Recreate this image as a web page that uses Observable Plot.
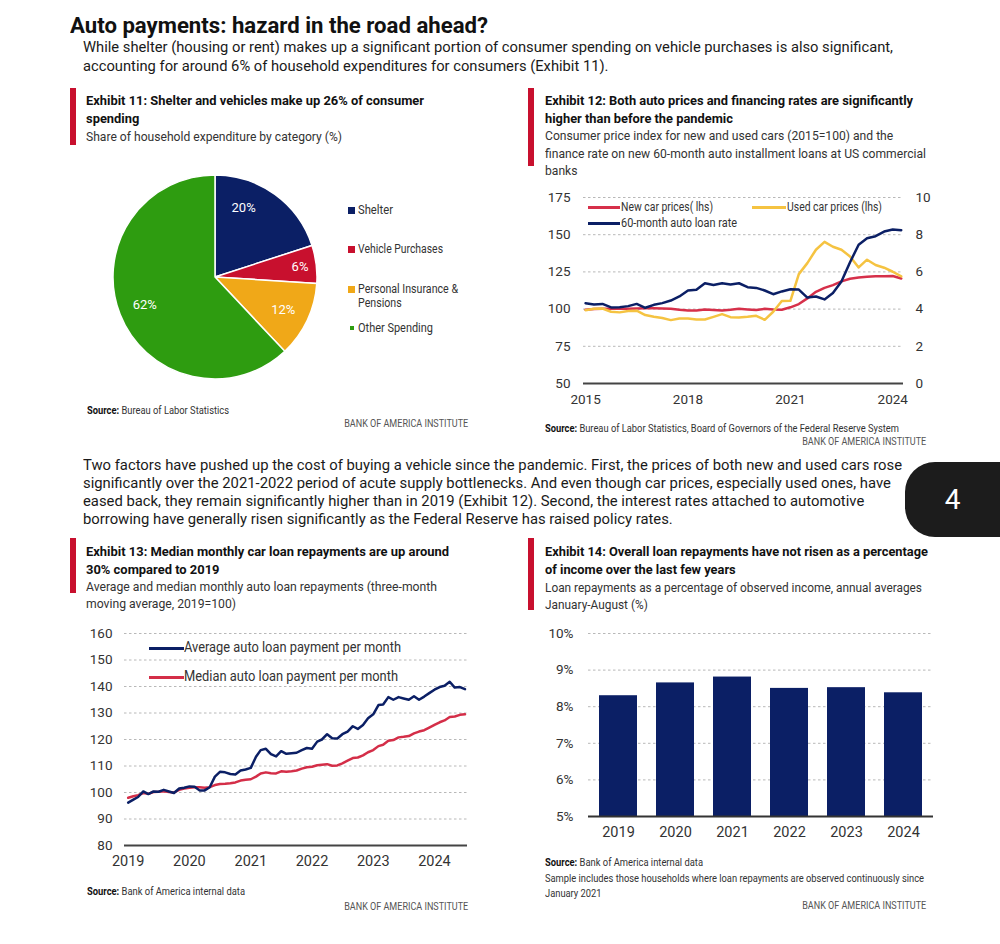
<!DOCTYPE html>
<html><head><meta charset="utf-8">
<script src="https://cdn.jsdelivr.net/npm/d3@7"></script>
<script src="https://cdn.jsdelivr.net/npm/@observablehq/plot@0.6"></script>
<style>
body{margin:0;background:#fff;}
#page{position:relative;width:1000px;height:944px;overflow:hidden;font-family:Roboto,"Liberation Sans",sans-serif;color:#1a1a1a;}
.a{position:absolute;white-space:nowrap;}
.bar{position:absolute;background:#c8102e;width:6px;}
.t{font-weight:bold;font-size:13.5px;line-height:18px;color:#111;}
.s{font-size:13px;line-height:17px;color:#333;}
.src{font-size:10.5px;line-height:15px;color:#333;}
.src b{color:#111;}
.boa{font-size:10.5px;line-height:14px;color:#555;}
.p{font-size:15.5px;line-height:19px;color:#1a1a1a;}
.sw{position:absolute;height:3px;}
.lg{font-size:12.5px;line-height:14px;color:#333;}
.sq{position:absolute;}
.chart{position:absolute;}
</style></head>
<body><div id="page">
<div class="a" data-w="418" style="left:70px;top:13px;font-size:22px;line-height:26px;font-weight:bold;color:#111;">Auto payments: hazard in the road ahead?</div>
<div class="a p" data-w="810" style="left:83px;top:37.5px;">While shelter (housing or rent) makes up a significant portion of consumer spending on vehicle purchases is also significant,<br>accounting for around 6% of household expenditures for consumers (Exhibit 11).</div>

<div class="bar" style="left:70px;top:88px;height:57px;"></div>
<div class="a t" data-w="338" style="left:86px;top:91px;">Exhibit 11: Shelter and vehicles make up 26% of consumer<br>spending</div>
<div class="a s" data-w="256" style="left:86px;top:127.5px;">Share of household expenditure by category (%)</div>

<div class="bar" style="left:528px;top:88px;height:78px;"></div>
<div class="a t" data-w="368" style="left:545px;top:91px;">Exhibit 12: Both auto prices and financing rates are significantly<br>higher than before the pandemic</div>
<div class="a s" data-w="381" style="left:545px;top:127px;line-height:17.5px;">Consumer price index for new and used cars (2015=100) and the<br>finance rate on new 60-month auto installment loans at US commercial<br>banks</div>

<div class="a src" data-w="142" style="left:87px;top:402.5px;"><b>Source:</b> Bureau of Labor Statistics</div>
<div class="a boa" data-w="124" data-r="1" style="right:532px;top:417px;">BANK OF AMERICA INSTITUTE</div>
<div class="a src" data-w="354" style="left:545px;top:420.5px;"><b>Source:</b> Bureau of Labor Statistics, Board of Governors of the Federal Reserve System</div>
<div class="a boa" data-w="124" data-r="1" style="right:74px;top:435px;">BANK OF AMERICA INSTITUTE</div>

<div class="a p" data-w="819" style="left:83px;top:456px;line-height:18px;">Two factors have pushed up the cost of buying a vehicle since the pandemic. First, the prices of both new and used cars rose<br>significantly over the 2021-2022 period of acute supply bottlenecks. And even though car prices, especially used ones, have<br>eased back, they remain significantly higher than in 2019 (Exhibit 12). Second, the interest rates attached to automotive<br>borrowing have generally risen significantly as the Federal Reserve has raised policy rates.</div>
<div class="a" style="left:905px;top:462px;width:95px;height:75px;background:#1c1c1c;border-radius:30px 0 0 30px;color:#fff;font-size:28px;line-height:75px;text-align:center;">4</div>

<div class="bar" style="left:70px;top:538px;height:55px;"></div>
<div class="a t" data-w="363" style="left:86px;top:542px;">Exhibit 13: Median monthly car loan repayments are up around<br>30% compared to 2019</div>
<div class="a s" data-w="351" style="left:86px;top:579px;line-height:16.5px;">Average and median monthly auto loan repayments (three-month<br>moving average, 2019=100)</div>

<div class="bar" style="left:528px;top:538px;height:72px;"></div>
<div class="a t" data-w="383" style="left:545px;top:542px;">Exhibit 14: Overall loan repayments have not risen as a percentage<br>of income over the last few years</div>
<div class="a s" data-w="377" style="left:545px;top:579px;line-height:17px;">Loan repayments as a percentage of observed income, annual averages<br>January-August (%)</div>

<div class="a src" data-w="158" style="left:87px;top:883.5px;"><b>Source:</b> Bank of America internal data</div>
<div class="a boa" data-w="124" data-r="1" style="right:532px;top:900px;">BANK OF AMERICA INSTITUTE</div>
<div class="a src" data-w="158" style="left:545px;top:854.5px;"><b>Source:</b> Bank of America internal data</div>
<div class="a src" data-w="379" style="left:545px;top:870.5px;">Sample includes those households where loan repayments are observed continuously since<br>January 2021</div>
<div class="a boa" data-w="124" data-r="1" style="right:74px;top:899px;">BANK OF AMERICA INSTITUTE</div>

<!-- legends -->
<div class="sq" style="left:348px;top:206.5px;width:7px;height:7px;background:#0b1f65;"></div>
<div class="a lg" data-w="35" style="left:358px;top:203px;">Shelter</div>
<div class="sq" style="left:348px;top:245.5px;width:7px;height:7px;background:#c8102e;"></div>
<div class="a lg" data-w="85" style="left:358px;top:242px;">Vehicle Purchases</div>
<div class="sq" style="left:348px;top:285.5px;width:7px;height:7px;background:#f0a818;"></div>
<div class="a lg" data-w="100" style="left:358px;top:282px;">Personal Insurance &amp;<br>Pensions</div>
<div class="sq" style="left:350px;top:326px;width:4px;height:4px;background:#2e9c10;"></div>
<div class="a lg" data-w="75" style="left:358px;top:321px;">Other Spending</div>

<div class="sw" style="left:588px;top:205.5px;width:32px;background:#d6304a;"></div>
<div class="a lg" data-w="92" style="left:621px;top:200px;">New car prices( lhs)</div>
<div class="sw" style="left:752px;top:205.5px;width:34px;background:#f5c341;"></div>
<div class="a lg" data-w="95" style="left:787px;top:200px;">Used car prices (lhs)</div>
<div class="sw" style="left:588px;top:221.5px;width:32px;background:#0b1f65;"></div>
<div class="a lg" data-w="116" style="left:621px;top:216px;">60-month auto loan rate</div>

<div class="sw" style="left:149px;top:646.5px;width:35px;background:#0b1f65;"></div>
<div class="a lg" data-w="217" style="left:184px;top:640px;font-size:14.5px;line-height:16px;">Average auto loan payment per month</div>
<div class="sw" style="left:149px;top:675.5px;width:35px;background:#d42e48;"></div>
<div class="a lg" data-w="214" style="left:184px;top:669px;font-size:14.5px;line-height:16px;">Median auto loan payment per month</div>

<div id="c11" class="chart" style="left:100px;top:165px;"></div>
<div id="c12a" class="chart" style="left:530px;top:185px;"></div>
<div id="c12b" class="chart" style="left:530px;top:185px;"></div>
<div id="c13" class="chart" style="left:62px;top:620px;"></div>
<div id="c14" class="chart" style="left:530px;top:620px;"></div>
</div>
<script>
// ---------- DATA ----------
// Exhibit 11
const pieCategories = ["Shelter", "Vehicle Purchases", "Personal Insurance & Pensions", "Other Spending"];
const pieValues = [20, 6, 12, 62];
const pieLabels = ["20%", "6%", "12%", "62%"];

// Exhibit 12 (quarterly)
const ex12Quarters = ["2015-01","2015-04","2015-07","2015-10","2016-01","2016-04","2016-07","2016-10",
  "2017-01","2017-04","2017-07","2017-10","2018-01","2018-04","2018-07","2018-10",
  "2019-01","2019-04","2019-07","2019-10","2020-01","2020-04","2020-07","2020-10",
  "2021-01","2021-04","2021-07","2021-10","2022-01","2022-04","2022-07","2022-10",
  "2023-01","2023-04","2023-07","2023-10","2024-01","2024-04"];
const newCarPrices = [99.5,100.0,100.2,100.3, 100.3,100.2,100.4,100.5, 100.5,100.4,100.2,99.5,
  99.0,99.0,99.8,99.4, 99.0,99.5,100.3,99.8, 99.4,100.2,99.8,99.6,
  101.2,103.4,107.2,111.6, 114.3,116.1,118.6,120.4, 121.3,121.8,122.0,122.0, 122.2,120.6];
const usedCarPrices = [99.3,100.2,100.4,98.2, 97.8,98.7,98.9,96.0, 94.8,94.0,92.6,93.7,
  93.7,93.0,93.0,94.8, 96.6,94.6,94.4,94.8, 95.5,92.8,98.2,105.4,
  105.6,123.5,130.9,139.9, 145.2,141.9,139.9,135.4, 128.0,133.2,129.6,127.8, 125.1,122.0];
const autoLoanRate = [4.32,4.25,4.28,4.09, 4.10,4.16,4.28,4.07, 4.23,4.32,4.46,4.68,
  5.00,5.04,5.39,5.30, 5.39,5.32,5.39,5.18, 5.14,5.00,4.80,4.95,
  5.07,5.05,4.62,4.68, 4.52,4.86,5.48,6.52, 7.46,7.81,7.92,8.17, 8.28,8.24];
const ex12YearTicks = [2015, 2018, 2021, 2024];
const ex12LeftTicks = [50, 75, 100, 125, 150, 175];
const ex12RightTicks = [0, 2, 4, 6, 8, 10];

// Exhibit 13 (monthly, Jan 2019 - Jul 2024)
const ex13Start = "2019-01";
const avgPayment = [96.2,97.3,98.3,100.4,99.4,100.4,100.3,101.0,100.4,99.8,101.5,101.8,
  102.3,102.2,100.8,100.8,102.0,106.0,107.8,107.6,107.0,106.8,108.3,108.7,
  109.3,113.5,116.0,116.5,114.5,113.6,115.6,114.6,114.8,115.0,116.0,116.8,
  116.5,119.2,120.0,122.0,120.5,120.4,122.0,123.0,125.0,124.0,125.5,128.0,
  129.5,133.0,133.2,136.0,135.0,136.0,135.5,135.0,136.3,135.0,136.2,137.5,
  138.8,139.8,140.3,141.8,139.6,139.8,139.0];
const medianPayment = [98.0,98.6,99.0,99.8,99.5,100.2,100.3,100.5,100.2,100.0,101.0,101.5,
  101.8,102.0,102.0,101.8,102.0,102.8,103.2,103.3,103.5,103.8,104.5,104.8,
  105.0,106.0,107.2,107.6,107.3,107.2,108.0,107.8,108.0,108.3,109.0,109.5,
  109.7,110.3,110.5,110.7,110.1,110.2,111.0,112.0,113.0,113.2,114.0,115.2,
  116.0,117.5,118.0,119.5,119.8,120.8,121.0,121.3,122.3,123.0,123.5,124.5,
  125.5,126.5,127.2,128.5,128.7,129.3,129.5];
const ex13YearTicks = [2019, 2020, 2021, 2022, 2023, 2024];
const ex13Ticks = [80, 90, 100, 110, 120, 130, 140, 150, 160];

// Exhibit 14
const ex14Years = ["2019", "2020", "2021", "2022", "2023", "2024"];
const ex14Share = [8.30, 8.65, 8.81, 8.50, 8.52, 8.38];
const ex14Ticks = [5, 6, 7, 8, 9, 10];

// ---------- STYLE ----------
const FONT = 'Roboto,"Liberation Sans",sans-serif';
const NAVY = "#0b1f65", RED = "#c8102e", ORANGE = "#f0a818", GREEN = "#2e9c10";
const LRED = "#d6304a", YELLOW = "#f5c341", MRED = "#d42e48";
const GRID = {stroke: "#b8b8b8", strokeOpacity: 1, strokeDasharray: "2.5,2.5", strokeWidth: 1};
const yr = y => new Date(Date.UTC(y, 0, 1));
const ym = s => new Date(s + "-01T00:00:00Z");

// ---------- EXHIBIT 11 (pie) ----------
const pieRows = pieCategories.map((c, i) => ({cat: c, v: pieValues[i], label: pieLabels[i]}));
document.getElementById("c11").append(Plot.plot({
  width: 230, height: 225, margin: 0,
  style: {fontFamily: FONT, background: "transparent"},
  x: {axis: null}, y: {axis: null},
  color: {domain: pieCategories, range: [NAVY, RED, ORANGE, GREEN]},
  marks: [
    Plot.dot(pieRows, {x: 0, y: 0, fill: "cat", r: 1, render(index, scales, values, dims) {
      const R = 102, cx = 115, cy = 112;
      const arcs = d3.pie().sort(null).value(i => pieRows[i].v)(index);
      const g = d3.create("svg:g").attr("transform", `translate(${cx},${cy})`);
      g.selectAll("path").data(arcs).join("path")
        .attr("d", d3.arc().innerRadius(0).outerRadius(R))
        .attr("fill", d => values.fill[d.data])
        .attr("stroke", "#fff").attr("stroke-width", 1.5);
      g.selectAll("text").data(arcs).join("text")
        .attr("transform", d => {
          const a = (d.startAngle + d.endAngle) / 2;
          const share = pieRows[d.data].v;
          const rr = share < 10 ? 0.84 * R : 0.74 * R;
          const aa = share === 20 ? a - 0.24 : a;
          return `translate(${Math.sin(aa) * rr},${-Math.cos(aa) * rr})`;
        })
        .attr("text-anchor", "middle").attr("dy", "0.35em")
        .attr("fill", "#fff").attr("font-size", 13).attr("font-family", FONT)
        .text(d => pieRows[d.data].label);
      return g.node();
    }})
  ]
}));

// ---------- EXHIBIT 12 ----------
const ex12Rows = ex12Quarters.map((q, i) => ({date: ym(q), newCar: newCarPrices[i], used: usedCarPrices[i], rate: autoLoanRate[i]}));
const ex12X = {type: "utc", domain: [new Date("2014-12-10"), new Date("2024-04-25")]};
const ex12Dims = {width: 410, height: 225, marginLeft: 53, marginRight: 37, marginTop: 12, marginBottom: 27};
document.getElementById("c12a").append(Plot.plot({
  ...ex12Dims,
  style: {fontFamily: FONT, fontSize: "13.5px", color: "#333", background: "transparent"},
  x: ex12X,
  y: {domain: [50, 175]},
  marks: [
    Plot.gridY(ex12LeftTicks.slice(1), GRID),
    Plot.axisY({ticks: ex12LeftTicks, tickSize: 0, tickPadding: 13, label: null}),
    Plot.axisX({ticks: ex12YearTicks.map(yr), tickFormat: "%Y", tickSize: 0, tickPadding: 11, label: null}),
    Plot.ruleY([50], {stroke: "#444", strokeWidth: 2}),
    Plot.lineY(ex12Rows, {x: "date", y: "newCar", stroke: LRED, strokeWidth: 2.5}),
    Plot.lineY(ex12Rows, {x: "date", y: "used", stroke: YELLOW, strokeWidth: 2.5})
  ]
}));
document.getElementById("c12b").append(Plot.plot({
  ...ex12Dims,
  style: {fontFamily: FONT, fontSize: "13.5px", color: "#333", background: "transparent"},
  x: {...ex12X, axis: null},
  y: {domain: [0, 10], axis: null},
  marks: [
    Plot.axisY({anchor: "right", ticks: ex12RightTicks, tickSize: 0, tickPadding: 12, label: null, textAnchor: "start"}),
    Plot.lineY(ex12Rows, {x: "date", y: "rate", stroke: NAVY, strokeWidth: 2.5})
  ]
}));

// ---------- EXHIBIT 13 ----------
const ex13Dates = d3.utcMonth.range(ym(ex13Start), d3.utcMonth.offset(ym(ex13Start), avgPayment.length));
const ex13Rows = ex13Dates.map((d, i) => ({date: d, avg: avgPayment[i], med: medianPayment[i]}));
document.getElementById("c13").append(Plot.plot({
  width: 410, height: 250, marginLeft: 62, marginRight: 5, marginTop: 13, marginBottom: 25,
  style: {fontFamily: FONT, fontSize: "13.5px", color: "#333", background: "transparent"},
  x: {type: "utc", domain: [new Date("2018-12-10"), new Date("2024-07-16")]},
  y: {domain: [80, 160]},
  marks: [
    Plot.gridY(ex13Ticks.slice(1), GRID),
    Plot.axisY({ticks: ex13Ticks, tickSize: 0, tickPadding: 12, label: null}),
    Plot.axisX({ticks: ex13YearTicks.map(yr), tickFormat: "%Y", tickSize: 0, tickPadding: 10, label: null, fontSize: 14.5}),
    Plot.ruleY([80], {stroke: "#444", strokeWidth: 2}),
    Plot.lineY(ex13Rows, {x: "date", y: "med", stroke: MRED, strokeWidth: 2.5}),
    Plot.lineY(ex13Rows, {x: "date", y: "avg", stroke: NAVY, strokeWidth: 2.5})
  ]
}));

// ---------- EXHIBIT 14 ----------
const ex14Rows = ex14Years.map((y, i) => ({year: y, v: ex14Share[i]}));
document.getElementById("c14").append(Plot.plot({
  width: 410, height: 230, marginLeft: 58, marginRight: 7, marginTop: 13, marginBottom: 34,
  style: {fontFamily: FONT, fontSize: "13.5px", color: "#333", background: "transparent"},
  x: {domain: ex14Years, paddingInner: 0.33, paddingOuter: 0.16},
  y: {domain: [5, 10]},
  marks: [
    Plot.gridY(ex14Ticks.slice(1), GRID),
    Plot.axisY({ticks: ex14Ticks, tickSize: 0, tickPadding: 15, tickFormat: d => d + "%", label: null}),
    Plot.axisX({tickSize: 0, tickPadding: 10, label: null, fontSize: 14.5}),
    Plot.barY(ex14Rows, {x: "year", y1: 5, y2: "v", fill: NAVY}),
    Plot.ruleY([5], {stroke: "#333", strokeWidth: 2})
  ]
}));

// ---------- fit condensed text widths ----------
function fitText() {
  document.querySelectorAll("[data-w]").forEach(el => {
    el.style.transform = "none";
    const nat = el.getBoundingClientRect().width;
    const k = (+el.dataset.w) / nat;
    el.style.transformOrigin = el.dataset.r ? "right top" : "left top";
    el.style.transform = `scaleX(${k})`;
  });
}
fitText();
if (document.fonts && document.fonts.ready) document.fonts.ready.then(fitText);
</script>
</body></html>
